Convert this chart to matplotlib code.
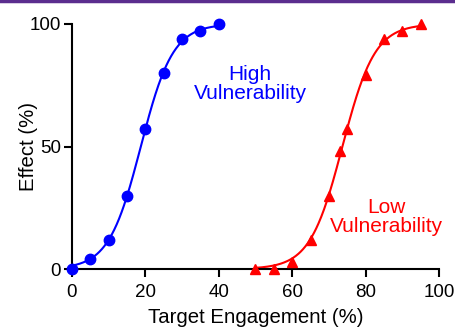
import numpy as np
import matplotlib
matplotlib.use("Agg")
import matplotlib.pyplot as plt
from matplotlib.lines import Line2D

plt.rcParams['font.family'] = ['Liberation Sans', 'DejaVu Sans']

high_x = [0, 5, 10, 15, 20, 25, 30, 35, 40]
high_y = [0, 4, 12, 30, 57, 80, 94, 97, 100]
low_x = [50, 55, 60, 65, 70, 73, 75, 80, 85, 90, 95]
low_y = [0, 0, 3, 12, 30, 48, 57, 79, 94, 97, 100]
x_ticks = [0, 20, 40, 60, 80, 100]
y_ticks = [0, 50, 100]


def fit_logistic(x, y):
    x = np.asarray(x, float)
    y = np.asarray(y, float)
    best = None
    for x0 in np.linspace(x.min(), x.max(), 400):
        for s in np.linspace(1, 15, 300):
            pred = 100.0 / (1 + np.exp(-(x - x0) / s))
            err = np.sum((pred - y) ** 2)
            if best is None or err < best[0]:
                best = (err, x0, s)
    return best[1], best[2]


fig = plt.figure(figsize=(4.56, 3.29), dpi=100)
ax = fig.add_axes([72 / 456, 1 - 269 / 329, (439 - 72) / 456, (269 - 24) / 329])

for xs, ys, color, marker, ms in [(high_x, high_y, '#0000ff', 'o', 7.5),
                                   (low_x, low_y, '#ff0000', '^', 7.5)]:
    x0, s = fit_logistic(xs, ys)
    xx = np.linspace(min(xs), max(xs), 300)
    ax.plot(xx, 100.0 / (1 + np.exp(-(xx - x0) / s)), color=color, lw=1.5, clip_on=False)
    ax.plot(xs, ys, linestyle='none', marker=marker, color=color, ms=ms, clip_on=False, zorder=5)

ax.set_xlim(0, 100)
ax.set_ylim(0, 100)
ax.set_xticks(x_ticks)
ax.set_yticks(y_ticks)
for side in ['top', 'right']:
    ax.spines[side].set_visible(False)
for side in ['left', 'bottom']:
    ax.spines[side].set_linewidth(1.5)
ax.tick_params(axis='x', direction='out', length=6, width=1.5, labelsize=13.5, pad=5)
ax.tick_params(axis='y', direction='out', length=6, width=1.5, labelsize=13.5, pad=2)
ax.set_xlabel('Target Engagement (%)', fontsize=14.7, labelpad=5)
ax.set_ylabel('Effect (%)', fontsize=14.7, labelpad=-6)

fig.text(250 / 456, 1 - 84 / 329, 'High\nVulnerability', color='#0000ff', fontsize=15,
         ha='center', va='center', linespacing=1.0)
fig.text(386 / 456, 1 - 217 / 329, 'Low\nVulnerability', color='#ff0000', fontsize=15,
         ha='center', va='center', linespacing=1.0)

fig.add_artist(Line2D([0, 1], [1 - 1 / 329, 1 - 1 / 329], transform=fig.transFigure,
                      color='#5b2d8e', lw=2.5))

fig.savefig('out.png', dpi=100)
